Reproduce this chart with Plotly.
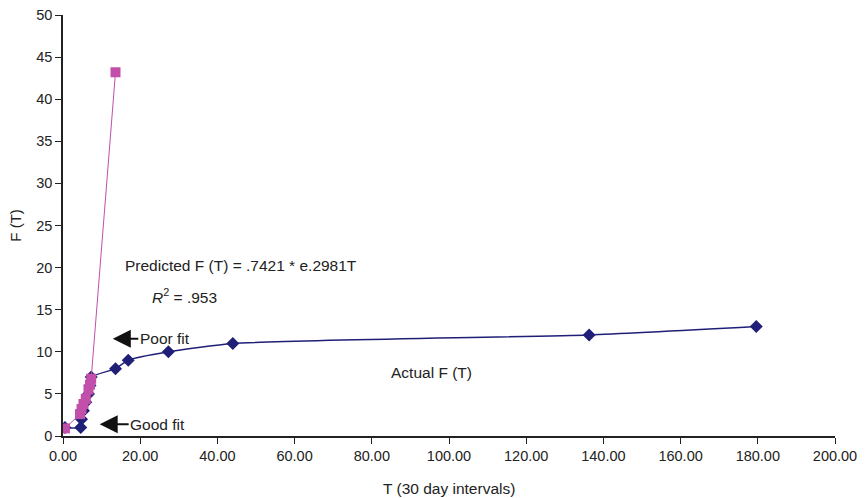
import plotly.graph_objects as go

# Observed cumulative failures, F(T), against time in 30-day intervals
actual_t = [0.5, 4.6, 4.8, 5.3, 5.9, 6.6, 7.0, 7.3, 13.6, 16.9, 27.3, 44.0, 136.3, 179.6]
actual_f = [1, 1, 2, 3, 4, 5, 6, 7, 8, 9, 10, 11, 12, 13]

# Exponential model F(T) = .7421 * e^(.2981 T) evaluated at the same intervals
pred_t = [0.5, 4.4, 4.8, 5.3, 5.9, 6.6, 7.0, 7.3, 13.6]
pred_f = [0.9, 2.6, 3.2, 3.8, 4.4, 5.5, 6.1, 6.8, 43.2]

x_ticks = [0, 20, 40, 60, 80, 100, 120, 140, 160, 180, 200]
y_ticks = [0, 5, 10, 15, 20, 25, 30, 35, 40, 45, 50]

BLUE = "#1f1f78"
PINK = "#c24fa9"
FONT = "Liberation Sans, Arial, sans-serif"
LABEL_FONT = dict(size=15.5, color="#222", family=FONT)

fig = go.Figure()
fig.add_trace(go.Scatter(
    x=actual_t, y=actual_f, mode="lines+markers", name="Actual F (T)",
    line=dict(color=BLUE, width=1.5, shape="spline", smoothing=0.5),
    marker=dict(symbol="diamond", size=10, color=BLUE),
))
fig.add_trace(go.Scatter(
    x=pred_t, y=pred_f, mode="lines+markers", name="Predicted F (T)",
    line=dict(color=PINK, width=1),
    marker=dict(symbol="square", size=10, color=PINK),
))

notes = [
    dict(x=15.5, y=20.3, text="Predicted F (T) = .7421 * e.2981T", xanchor="left"),
    dict(x=22.5, y=16.6, text="<i>R</i><sup>2</sup> = .953", xanchor="left"),
    dict(x=84.5, y=7.5, text="Actual F (T)", xanchor="left"),
]
for a in notes:
    a.update(showarrow=False, yanchor="middle", font=LABEL_FONT)

# Axis titles, placed in paper coordinates
titles = [
    dict(x=0.5, y=-0.125, xref="paper", yref="paper", text="T (30 day intervals)",
         xanchor="center", yanchor="middle", showarrow=False, font=LABEL_FONT),
    dict(x=-0.062, y=0.5, xref="paper", yref="paper", text="F (T)", textangle=-90,
         xanchor="center", yanchor="middle", showarrow=False,
         font=dict(size=15, color="#222", family=FONT)),
]

# Labels with a left-pointing arrow; the arrow tip sits at (x, y)
pointers = [
    dict(x=12.9, y=11.55, ax=52, ay=0, text="Poor fit"),
    dict(x=9.5, y=1.4, ax=58, ay=0, text="Good fit"),
]
for a in pointers:
    a.update(showarrow=True, arrowhead=2, arrowsize=1.8, arrowwidth=2,
             arrowcolor="#111", axref="pixel", ayref="pixel", font=LABEL_FONT)

fig.update_layout(
    width=866, height=498,
    margin=dict(l=63, r=31, t=15, b=62),
    paper_bgcolor="white", plot_bgcolor="white",
    showlegend=False,
    font=dict(family=FONT, size=14, color="#222"),
    annotations=notes + titles + pointers,
    xaxis=dict(
        range=[0, 200], tickvals=x_ticks, tickformat=".2f", automargin=False,
        showline=True, linecolor="#222", linewidth=1.5,
        ticks="outside", ticklen=6, tickcolor="#222", showgrid=False, zeroline=False,
        tickfont=dict(size=14.5),
    ),
    yaxis=dict(
        range=[0, 50], tickvals=y_ticks, automargin=False,
        showline=True, linecolor="#222", linewidth=1.5,
        ticks="outside", ticklen=6, tickcolor="#222", showgrid=False, zeroline=False,
        tickfont=dict(size=14.5),
    ),
)

fig.write_html("out.html")
